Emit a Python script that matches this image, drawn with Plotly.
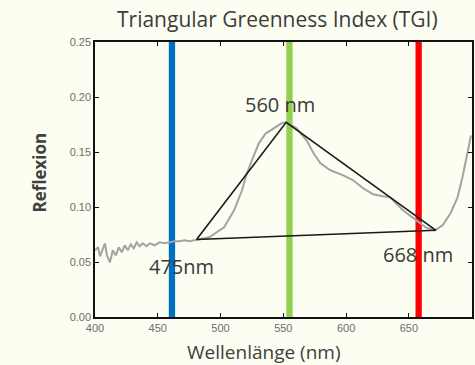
import plotly.graph_objects as go

# Spectrum
wavelength = [400.0, 402.4, 404.0, 406.3, 407.9, 409.5, 411.9, 414.2, 416.6, 419.0,
              421.4, 423.7, 426.1, 428.5, 430.9, 433.2, 435.6, 438.0, 441.1, 443.5,
              447.5, 451.4, 455.4, 459.3, 463.3, 467.2, 471.2, 475.2, 480.7, 491.0,
              502.8, 510.8, 517.1, 521.0, 525.0, 530.5, 536.1, 542.4, 548.7, 552.7,
              560.6, 568.5, 574.1, 579.6, 587.5, 597.8, 605.7, 613.6, 621.5, 629.4,
              635.0, 645.3, 655.5, 663.4, 670.6, 676.9, 683.2, 688.8, 692.7, 696.7, 699.5]
reflectance = [0.0606, 0.0634, 0.0552, 0.0615, 0.0670, 0.0561, 0.0497, 0.0606, 0.0561, 0.0634,
               0.0588, 0.0652, 0.0606, 0.0661, 0.0625, 0.0679, 0.0643, 0.0670, 0.0643, 0.0670,
               0.0652, 0.0679, 0.0670, 0.0679, 0.0688, 0.0688, 0.0697, 0.0688, 0.0702, 0.0725,
               0.0815, 0.0970, 0.1152, 0.1306, 0.1425, 0.1579, 0.1670, 0.1715, 0.1761, 0.1770,
               0.1715, 0.1606, 0.1488, 0.1397, 0.1334, 0.1288, 0.1243, 0.1170, 0.1115, 0.1097,
               0.1088, 0.0970, 0.0879, 0.0815, 0.0788, 0.0834, 0.0943, 0.1088, 0.1270, 0.1488, 0.1650]

# Band markers
band_nm = [461.3, 554.9, 657.8]
band_colors = ["#0070C0", "#92D050", "#FF0000"]

# Triangle vertices
tri_wl = [480.9, 552.3, 671.6, 480.9]
tri_refl = [0.0704, 0.1770, 0.0788, 0.0704]

# Labels
label_text = ["475nm", "560 nm", "668 nm"]
label_wl = [468.6, 547.7, 657.0]
label_refl = [0.046, 0.193, 0.057]

x_ticks = [400, 450, 500, 550, 600, 650, 700]
y_ticks = [0.00, 0.05, 0.10, 0.15, 0.20, 0.25]

fig = go.Figure()

for b, c in zip(band_nm, band_colors):
    fig.add_trace(go.Scatter(x=[b, b], y=[0, 0.25], mode="lines",
                             line=dict(color=c, width=6.3), hoverinfo="skip",
                             showlegend=False))

fig.add_trace(go.Scatter(x=wavelength, y=reflectance, mode="lines",
                         line=dict(color="#A3A3A3", width=2), showlegend=False))

fig.add_trace(go.Scatter(x=tri_wl, y=tri_refl, mode="lines",
                         line=dict(color="#1a1a1a", width=1.6), showlegend=False))

for t, xv, yv in zip(label_text, label_wl, label_refl):
    fig.add_annotation(x=xv, y=yv, xref="x", yref="y", text=t, showarrow=False,
                       font=dict(family="Open Sans", size=20, color="#3a3a3a"),
                       xanchor="center", yanchor="middle")

# Titles
fig.add_annotation(x=278.3, y=19, xref="paper", yref="paper", text="Triangular Greenness Index (TGI)",
                   showarrow=False, font=dict(family="Open Sans", size=21, color="#3c3c3c"),
                   xanchor="center", yanchor="middle")
fig.add_annotation(x=264.5, y=352, text="Wellenlänge (nm)", showarrow=False,
                   font=dict(family="Open Sans", size=19, color="#404040"),
                   xanchor="center", yanchor="middle", xref="paper", yref="paper")
fig.add_annotation(x=39, y=172, text="<b>Reflexion</b>", showarrow=False, textangle=-90,
                   font=dict(family="Open Sans", size=17, color="#404040"),
                   xanchor="center", yanchor="middle", xref="paper", yref="paper")

# convert pixel-positioned annotations to paper coords
L, R, T, B = 95, 474, 41.7, 316.7
for a in fig.layout.annotations[-3:]:
    a.x = (a.x - L) / (R - L)
    a.y = (B - a.y) / (B - T)

axis_common = dict(showline=True, linecolor="#111111", linewidth=1.5, mirror="ticks",
                   ticks="inside", ticklen=4, tickwidth=1.3, tickcolor="#111111",
                   showgrid=False, zeroline=False,
                   tickfont=dict(family="Liberation Sans", size=11, color="#6e6e6e"))

fig.update_layout(
    width=475, height=365,
    margin=dict(l=95, r=1, t=42, b=48),
    paper_bgcolor="#FBFEF0", plot_bgcolor="#FBFEF0",
    xaxis=dict(range=[400, 700.3], tickvals=x_ticks, **axis_common),
    yaxis=dict(range=[0, 0.25], tickvals=y_ticks, tickformat=".2f", **axis_common),
    showlegend=False,
)

fig.write_html("out.html", config={"displayModeBar": False},
               post_script="document.body.style.margin='0';document.body.style.padding='0';"
                           "document.body.style.overflow='hidden';"
                           "document.body.style.background='#FBFEF0';")
